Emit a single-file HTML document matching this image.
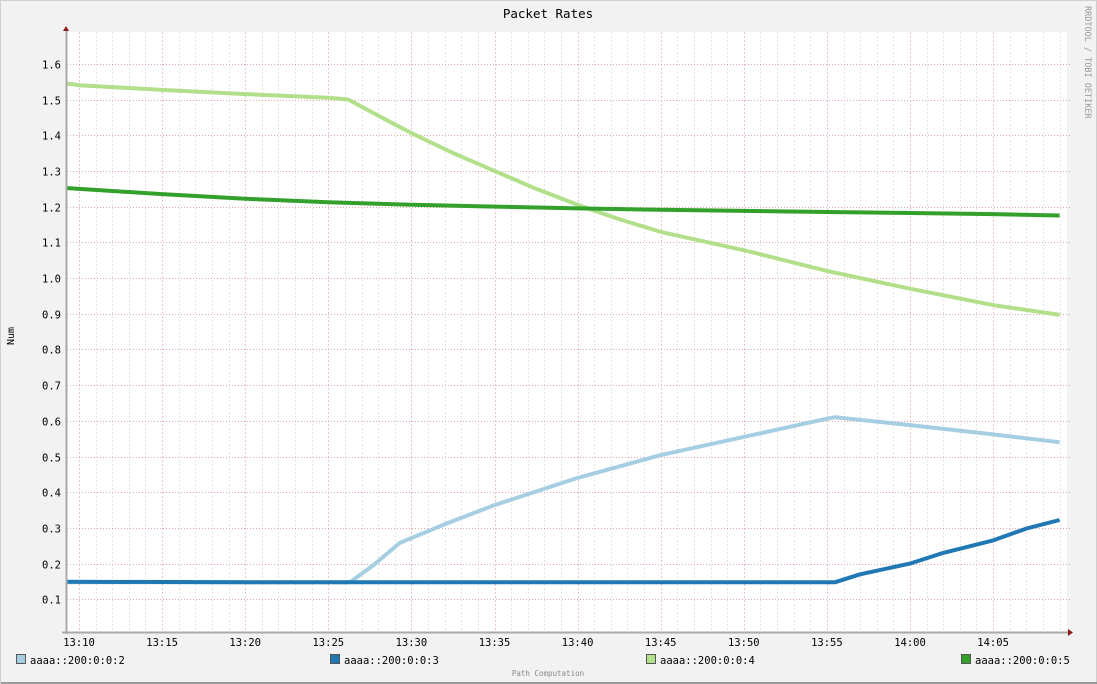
<!DOCTYPE html>
<html><head><meta charset="utf-8"><style>
html,body{margin:0;padding:0;background:#f2f2f2;}
svg{display:block;font-family:"DejaVu Sans Mono","Liberation Mono",monospace;}
</style></head><body>
<svg id="chart" width="1097" height="684" viewBox="0 0 1097 684" xmlns="http://www.w3.org/2000/svg">
<rect x="0" y="0" width="1097" height="684" fill="#f2f2f2" stroke="#cfcfcf" stroke-width="2"/>
<rect x="1" y="682" width="1096" height="2" fill="#9a9a9a"/>
<rect x="67" y="32" width="1000" height="600" fill="#ffffff"/>
<text x="548" y="18" text-anchor="middle" font-size="12.5" fill="#000">Packet Rates</text>
<text x="14" y="336" text-anchor="middle" font-size="10" fill="#000" transform="rotate(-90 14 336)">Num</text>
<text x="1085" y="6" text-anchor="start" font-size="8.5" fill="#999" transform="rotate(90 1085 6)">RRDTOOL / TOBI OETIKER</text>
<text x="548" y="676" text-anchor="middle" font-size="7.5" fill="#888">Path Computation</text>
<g id="grid"></g>
<g id="series"></g>
<g id="axes"></g>
<g id="legend"></g>
</svg>
<script>
const yTicks = [0.1,0.2,0.3,0.4,0.5,0.6,0.7,0.8,0.9,1.0,1.1,1.2,1.3,1.4,1.5,1.6];
const xTickLabels = ["13:10","13:15","13:20","13:25","13:30","13:35","13:40","13:45","13:50","13:55","14:00","14:05"];
const seriesNames = ["aaaa::200:0:0:2","aaaa::200:0:0:3","aaaa::200:0:0:4","aaaa::200:0:0:5"];
const seriesColors = ["#a6cee3","#1f78b4","#b2df8a","#33a02c"];
// time in minutes since 13:10
const t2 = [-0.8,16.3,17.7,19.3,22,25,30,35,40,45,45.5,50,55,59];
const v2 = [0.148,0.148,0.195,0.258,0.31,0.364,0.44,0.504,0.555,0.606,0.61,0.588,0.562,0.54];
const t3 = [-0.8,10,20,30,40,45.5,47,50,52,55,57,59];
const v3 = [0.149,0.148,0.148,0.148,0.148,0.148,0.17,0.20,0.23,0.265,0.298,0.322];
const t4 = [-0.8,0,5,10,15,16.2,18,20,22.5,25,27.5,30,32.5,35,40,45,50,55,59];
const v4 = [1.545,1.54,1.527,1.515,1.505,1.50,1.455,1.406,1.35,1.30,1.25,1.205,1.165,1.129,1.078,1.02,0.97,0.924,0.897];
const t5 = [-0.8,5,10,15,20,25,30,35,40,45,50,55,59];
const v5 = [1.252,1.235,1.222,1.212,1.205,1.20,1.195,1.191,1.188,1.185,1.182,1.179,1.175];

const NS="http://www.w3.org/2000/svg";
const X0=79, PXMIN=16.62, Y0=635, PXU=357;
const xs = t => X0 + t*PXMIN;
const ys = v => Y0 - v*PXU;
function mk(tag, attrs, parent){const e=document.createElementNS(NS,tag);for(const k in attrs)e.setAttribute(k,attrs[k]);parent.appendChild(e);return e;}
const grid=document.getElementById('grid'), axes=document.getElementById('axes'), ser=document.getElementById('series'), leg=document.getElementById('legend');
for(let m=0;m<=59;m++){
  const x=Math.round(xs(m))+0.5, major=m%5===0;
  const l=mk('line',{x1:x,x2:x,y1:32,y2:632,stroke:major?'#ecc4c4':'#e4e4e4','stroke-dasharray':'2,2'},grid);
  
  
}
yTicks.forEach(v=>{
  const y=Math.round(ys(v))+0.5;
  const l=mk('line',{x1:67,x2:1070,y1:y,y2:y,stroke:'#e0a8a8','stroke-dasharray':'1,2'},grid);
  
  
  const t=mk('text',{x:61,y:y+4,'text-anchor':'end','font-size':'10.5',fill:'#000'},axes);
  t.textContent=v.toFixed(1);
  
  
});
xTickLabels.forEach((s,i)=>{
  const t=mk('text',{x:xs(i*5),y:646,'text-anchor':'middle','font-size':'10.5',fill:'#000'},axes);
  t.textContent=s;
  
  
});
const ts=[t2,t3,t4,t5], vs=[v2,v3,v4,v5];
ts.forEach((tt,i)=>{
  const pts=tt.map((t,j)=>xs(t).toFixed(1)+','+ys(vs[i][j]).toFixed(1)).join(' ');
  const p=mk('polyline',{points:pts,fill:'none',stroke:seriesColors[i],'stroke-width':'4','stroke-linejoin':'round'},ser);
  
  
});
const ax1=mk('line',{x1:66.5,x2:66.5,y1:30,y2:634,stroke:'#aaa','stroke-width':'2'},axes);


const ax2=mk('line',{x1:62,x2:1070,y1:632.5,y2:632.5,stroke:'#aaa','stroke-width':'2'},axes);


const a1=mk('polygon',{points:'63,31 69,31 66,26',fill:'#8b1a1a'},axes);


const a2=mk('polygon',{points:'1068,629 1068,636 1073,632.5',fill:'#8b1a1a'},axes);


const legX=[16,330,646,961];
seriesNames.forEach((n,i)=>{
  const r=mk('rect',{x:legX[i]+0.5,y:654.5,width:9,height:9,fill:seriesColors[i],stroke:'#555','stroke-width':'1'},leg);
  
  
  const t=mk('text',{x:legX[i]+14,y:664,'font-size':'10.5',fill:'#000'},leg);
  t.textContent=n;
  
  
});
</script>
</body></html>
